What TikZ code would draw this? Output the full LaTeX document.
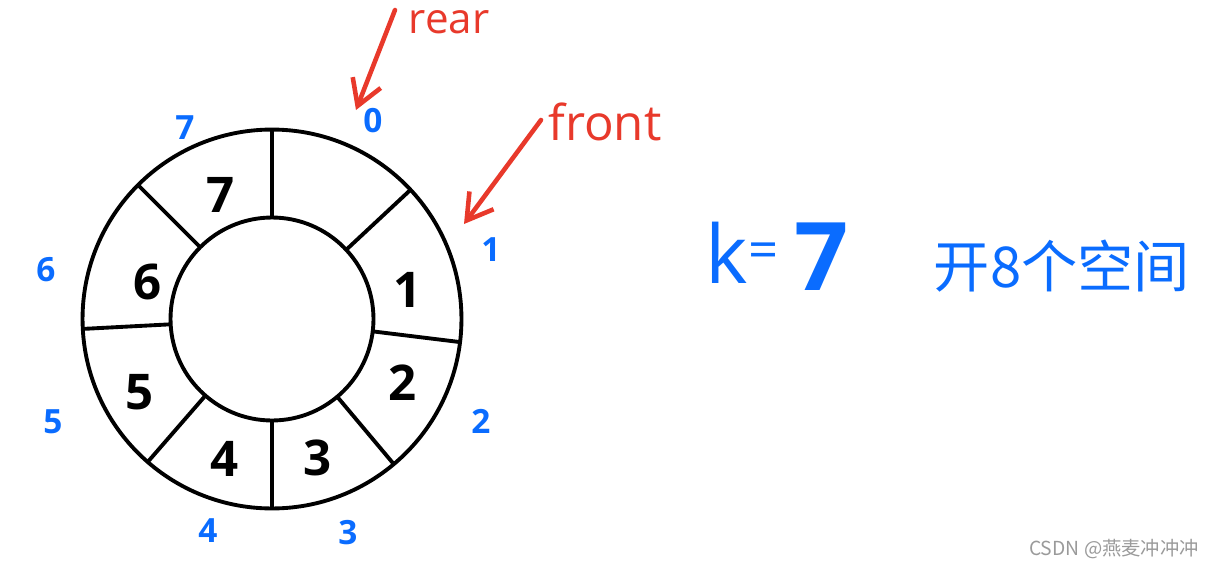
\documentclass[tikz,border=0pt]{standalone}
\usepackage{fontspec}
\setmainfont{Open Sans}
\newfontfamily\cjkfont{Noto Sans CJK SC}
\usepackage{xcolor}
\usetikzlibrary{arrows.meta,positioning,calc}
\definecolor{penblue}{HTML}{0A6CFF}
\definecolor{penred}{HTML}{E8392B}
\definecolor{markgray}{HTML}{9A9A9A}
\tikzset{
  slotnum/.style={font=\bfseries\fontsize{28}{32}\selectfont},
  idx/.style={text=penblue, font=\bfseries\fontsize{19}{22}\selectfont},
  redtext/.style={text=penred},
  penarrow/.style={draw=penred, line width=2.6pt, line cap=round, -{Straight Barb[length=5mm,width=6mm]}}
}

\begin{document}
\begin{tikzpicture}[x=0.02cm, y=-0.02cm, line width=2.2pt, every node/.style={inner sep=0pt, outer sep=0pt}]
\useasboundingbox (0,0) rectangle (1213,568);
% ring of 8 slots
\node[circle,draw,minimum size=7.58cm] (ring) at (272,319) {};
\node[circle,draw,minimum size=4.06cm] (hub) at (272,319) {};
\foreach \a in {90,43,-7,-50,-90,-131,183,135}{
  \draw (hub.\a) -- (ring.\a);
}
% values in the slots
\foreach \n/\x/\y in {1/408/290, 2/403/383, 3/318/458, 4/225/459, 5/140/392, 6/148/282, 7/221/195}{
  \node[slotnum] (s\n) at (\x,\y) {\n};
}
% slot indices
\foreach \n/\x/\y in {0/373/121, 1/491/250, 2/481/421, 3/348/533, 4/208/531, 5/53/422, 6/46/270, 7/185/128}{
  \node[idx] (i\n) at (\x,\y) {\n};
}
% pointers
\node[redtext, font=\fontsize{24}{28}\selectfont] (rear) at (449,22) {rear};
\coordinate (rearTail) at (395,10);
\coordinate (rearTip) at (356,110);
\draw[penarrow] (rearTail) -- (rearTip);
\node[redtext, font=\fontsize{28}{32}\selectfont] (front) at (605,122) {front};
\coordinate (frontTail) at (541,120);
\coordinate (frontTip) at (464,224);
\draw[penarrow] (frontTail) -- (frontTip);
% notes
\node[text=penblue, font=\fontsize{46}{50}\selectfont] (k) at (727,253) {k};
\node[text=penblue, font=\fontsize{30}{34}\selectfont, anchor=base] (eq) at (764,268) {=};
\node[text=penblue, font=\bfseries\fontsize{54}{60}\selectfont] (seven) at (822,257) {7};
\node[text=penblue, font=\cjkfont\fontsize{32}{38}\selectfont] (space) at (1062,266) {开8个空间};
\node[text=markgray, font=\cjkfont\fontsize{11}{13}\selectfont] (mark) at (1114,549) {CSDN @燕麦冲冲冲};
\end{tikzpicture}
\end{document}
